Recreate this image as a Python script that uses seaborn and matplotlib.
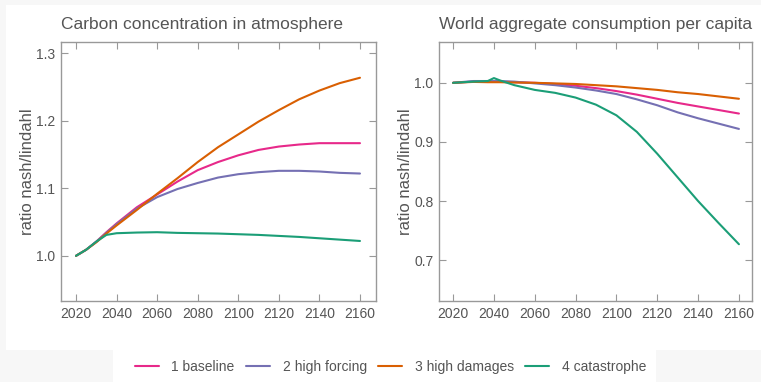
import matplotlib
matplotlib.use("Agg")
import matplotlib.pyplot as plt
import seaborn as sns
import pandas as pd
from matplotlib.patches import Rectangle

# ---------------- data ----------------
scenarios = ["1 baseline", "2 high forcing", "3 high damages", "4 catastrophe"]
colors = ["#e7298a", "#7570b3", "#d95f02", "#1b9e77"]

years_carbon = [2020, 2025, 2030, 2035, 2040, 2050, 2060, 2070, 2080, 2090,
                2100, 2110, 2120, 2130, 2140, 2150, 2160]
carbon_baseline = [1.0, 1.009, 1.021, 1.035, 1.048, 1.072, 1.091, 1.110, 1.127, 1.139,
                   1.149, 1.157, 1.162, 1.165, 1.167, 1.167, 1.167]
carbon_forcing = [1.0, 1.009, 1.021, 1.034, 1.047, 1.070, 1.087, 1.099, 1.108, 1.116,
                  1.121, 1.124, 1.126, 1.126, 1.125, 1.123, 1.122]
carbon_damages = [1.0, 1.009, 1.020, 1.033, 1.045, 1.068, 1.092, 1.115, 1.139, 1.161,
                  1.180, 1.199, 1.216, 1.232, 1.245, 1.256, 1.264]
carbon_catastrophe = [1.0, 1.009, 1.021, 1.031, 1.0335, 1.0345, 1.035, 1.034, 1.0335, 1.033,
                      1.032, 1.031, 1.0295, 1.028, 1.026, 1.024, 1.022]

years_cons = [2020, 2030, 2037, 2040, 2043, 2050, 2060, 2070, 2080, 2090,
              2100, 2110, 2120, 2130, 2140, 2150, 2160]
cons_baseline = [1.0, 1.002, 1.002, 1.002, 1.002, 1.001, 1.0, 0.998, 0.995, 0.991,
                 0.986, 0.980, 0.973, 0.966, 0.960, 0.954, 0.948]
cons_forcing = [1.0, 1.003, 1.003, 1.003, 1.003, 1.002, 0.999, 0.996, 0.992, 0.987,
                0.981, 0.972, 0.962, 0.950, 0.940, 0.931, 0.922]
cons_damages = [1.0, 1.0015, 1.001, 1.001, 1.001, 1.0005, 1.0, 0.999, 0.998, 0.996,
                0.994, 0.991, 0.988, 0.984, 0.981, 0.977, 0.973]
cons_catastrophe = [1.0, 1.002, 1.003, 1.008, 1.004, 0.996, 0.988, 0.983, 0.975, 0.963,
                    0.945, 0.917, 0.880, 0.840, 0.800, 0.763, 0.727]

titles = ["Carbon concentration in atmosphere", "World aggregate consumption per capita"]
ylabel = "ratio nash/lindahl"
xticks = [2020, 2040, 2060, 2080, 2100, 2120, 2140, 2160]
yticks_carbon = [1.0, 1.1, 1.2, 1.3]
yticks_cons = [0.7, 0.8, 0.9, 1.0]


def long_df(years, series):
    rows = []
    for name, vals in zip(scenarios, series):
        for y, v in zip(years, vals):
            rows.append({"year": y, "value": v, "scenario": name})
    return pd.DataFrame(rows)


df_carbon = long_df(years_carbon, [carbon_baseline, carbon_forcing, carbon_damages, carbon_catastrophe])
df_cons = long_df(years_cons, [cons_baseline, cons_forcing, cons_damages, cons_catastrophe])

# ---------------- style ----------------
sns.set_theme(style="white")
plt.rcParams["font.family"] = ["Liberation Sans", "DejaVu Sans"]
text_col = "#555555"
spine_col = "#999999"

fig = plt.figure(figsize=(7.61, 3.82), dpi=100, facecolor="#f7f7f7")
W, H = 761, 382
fig.patches.append(Rectangle((6 / W, (H - 350) / H), 755 / W, 345 / H,
                             transform=fig.transFigure, facecolor="white", edgecolor="none", zorder=-1))
fig.patches.append(Rectangle((113 / W, 0), (656 - 113) / W, (H - 350) / H,
                             transform=fig.transFigure, facecolor="white", edgecolor="none", zorder=-1))


def px_axes(x0, x1, y0, y1):
    return fig.add_axes([x0 / W, (H - y1) / H, (x1 - x0) / W, (y1 - y0) / H])


ax1 = px_axes(61, 376, 42, 301)
ax2 = px_axes(439, 752, 42, 301)

for ax, df, title, yt, ylim, xlim in [
    (ax1, df_carbon, titles[0], yticks_carbon, (0.933, 1.317), (2012.6, 2167.9)),
    (ax2, df_cons, titles[1], yticks_cons, (0.631, 1.069), (2013.1, 2166.4)),
]:
    sns.lineplot(data=df, x="year", y="value", hue="scenario", hue_order=scenarios,
                 palette=colors, linewidth=1.5, ax=ax, legend=False)
    ax.set_xlim(*xlim)
    ax.set_ylim(*ylim)
    ax.set_xticks(xticks)
    ax.set_yticks(yt)
    ax.set_yticklabels([f"{v:.1f}" for v in yt])
    ax.set_xlabel("")
    ax.set_ylabel(ylabel, fontsize=12, color=text_col, labelpad=1)
    ax.set_title(title, loc="left", fontsize=12.5, color=text_col, pad=9)
    ax.tick_params(direction="in", length=5, width=0.8, color=spine_col,
                   labelsize=10, labelcolor=text_col, top=True, right=True,
                   bottom=True, left=True, pad=4)
    for s in ax.spines.values():
        s.set_color(spine_col)
        s.set_linewidth(1.0)
    ax.set_facecolor("white")

handles = [plt.Line2D([0], [0], color=c, lw=1.5) for c in colors]
leg = fig.legend(handles, scenarios, loc="center", bbox_to_anchor=(390.5 / W, (H - 367) / H),
                 ncol=4, frameon=False, fontsize=10, handlelength=1.73,
                 columnspacing=0.8, handletextpad=0.93)
for t in leg.get_texts():
    t.set_color(text_col)

fig.savefig("out.png", dpi=100, facecolor=fig.get_facecolor())
